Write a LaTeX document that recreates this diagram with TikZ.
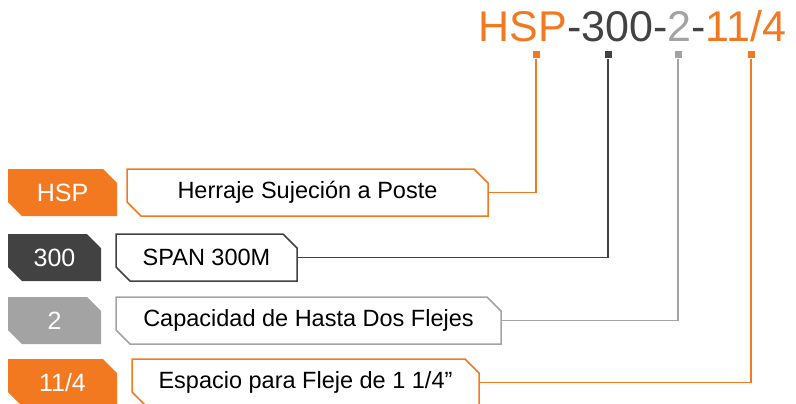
\documentclass[tikz,border=0pt]{standalone}
\usepackage{fontspec}
\setmainfont{Liberation Sans}
\usepackage{tikz}
\usetikzlibrary{shapes.misc,positioning}
\definecolor{hsporange}{RGB}{243,121,33}
\definecolor{spandark}{RGB}{66,66,66}
\definecolor{capgray}{RGB}{163,163,163}

\begin{document}
\begin{tikzpicture}[
x=1pt, y=-1pt,
TagBox/.style={chamfered rectangle, chamfered rectangle corners={north east,south west},
  chamfered rectangle xsep=7pt, chamfered rectangle ysep=7pt,
  inner sep=0pt, outer sep=0pt, minimum height=47pt, text=white, font=\fontsize{25}{28}\selectfont},
DescBox/.style={TagBox, draw, fill=white, line width=1.5pt, text=black, font=\fontsize{23.5}{26}\selectfont},
Marker/.style={rectangle, minimum size=7pt, inner sep=0pt},
Link/.style={line width=1.6pt}
]
\useasboundingbox (0,0) rectangle (796,404);

% part number
\node[anchor=base, font=\fontsize{43}{46}\selectfont] (code) at (632.5,42)
  {\textcolor{hsporange}{HSP}\textcolor{spandark}{-300-}\textcolor{capgray}{2}\textcolor{spandark}{-}\textcolor{hsporange}{11/4}};

% left tags
\node[TagBox, fill=hsporange, minimum width=109pt] (tHSP) at (62.5,192.5) {HSP};
\node[TagBox, fill=spandark, minimum width=93pt] (tSpan) at (54.5,257.5) {300};
\node[TagBox, fill=capgray, minimum width=93pt] (tCap) at (54.5,320.5) {2};
\node[TagBox, fill=hsporange, minimum width=109pt] (tFleje) at (62.5,382.5) {11/4};

% descriptions
\node[DescBox, draw=hsporange, minimum width=361pt] (dHSP) at (307.5,192.5) {Herraje Sujeción a Poste};
\node[DescBox, draw=spandark, minimum width=181pt] (dSpan) at (206.5,257.5) {SPAN 300M};
\node[DescBox, draw=capgray, minimum width=385pt] (dCap) at (308.5,320.5) {Capacidad de Hasta Dos Flejes};
\node[DescBox, draw=hsporange, minimum width=347pt] (dFleje) at (305.5,382.5) {Espacio para Fleje de 1 1/4”};

% markers under the code
\node[Marker, fill=hsporange] (mHSP) at (536,55) {};
\node[Marker, fill=spandark] (mSpan) at (608,55) {};
\node[Marker, fill=capgray] (mCap) at (678,55) {};
\node[Marker, fill=hsporange] (mFleje) at (751,55) {};

\draw[Link, hsporange] (mHSP) |- (dHSP);
\draw[Link, spandark] (mSpan) |- (dSpan);
\draw[Link, capgray] (mCap) |- (dCap);
\draw[Link, hsporange] (mFleje) |- (dFleje);

\end{tikzpicture}
\end{document}
